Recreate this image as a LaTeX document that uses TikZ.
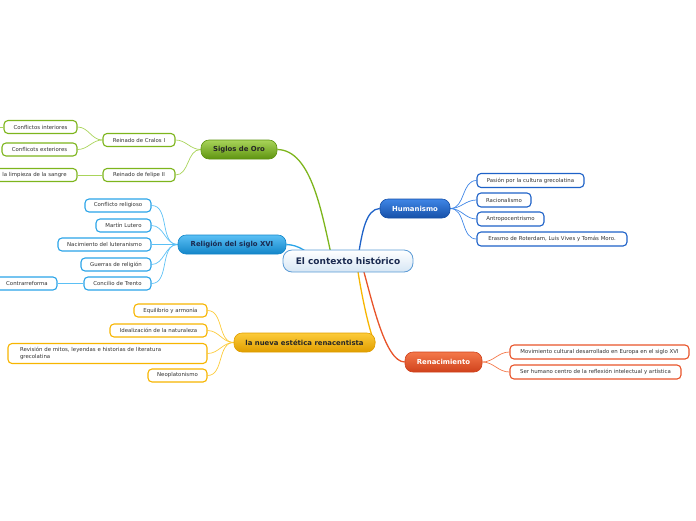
\documentclass[tikz,border=0pt]{standalone}
\usepackage{fontspec}
\setmainfont{DejaVu Sans}
\usetikzlibrary{backgrounds}
\definecolor{cGreen}{HTML}{7DB51C}
\definecolor{cGreenL}{HTML}{A9D45A}
\definecolor{cGreenD}{HTML}{5E9410}
\definecolor{cSky}{HTML}{2AA4E8}
\definecolor{cSkyL}{HTML}{5BC0F5}
\definecolor{cSkyD}{HTML}{1285C8}
\definecolor{cYel}{HTML}{F7B500}
\definecolor{cYelL}{HTML}{FCCB3A}
\definecolor{cYelD}{HTML}{E09E00}
\definecolor{cBlue}{HTML}{1E62C8}
\definecolor{cBlueL}{HTML}{3F86E6}
\definecolor{cBlueD}{HTML}{1650A8}
\definecolor{cRed}{HTML}{E8542A}
\definecolor{cRedL}{HTML}{F4784A}
\definecolor{cRedD}{HTML}{D0421C}
\definecolor{cCenter}{HTML}{5B9BD5}
\definecolor{cText}{HTML}{333333}
\definecolor{cNavy}{HTML}{1A2A50}
\tikzset{
  leaf/.style={draw, rounded corners=4pt, fill=white, line width=1.1pt,
    font=\fontsize{5.4}{6.4}\selectfont, text=cText, inner sep=0pt, minimum height=13pt},
  mainbox/.style={draw, rounded corners=8pt, line width=0.6pt, minimum height=19pt,
    inner sep=0pt, font=\bfseries\fontsize{6.9}{8}\selectfont},
  br/.style={line width=1.3pt},
  sub/.style={line width=0.7pt},
}
\begin{document}
\begin{tikzpicture}[x=1pt,y=-1pt]
\useasboundingbox (0,0) rectangle (696,520);
\clip (0,0) rectangle (696,520);

% central
\node[draw=cCenter, line width=0.8pt, rounded corners=9pt, top color=white, bottom color=cCenter!25,
  minimum width=130pt, minimum height=22pt, inner sep=0pt, text=cNavy,
  font=\bfseries\fontsize{9}{10}\selectfont] (root) at (348,261) {El contexto histórico};

% main nodes
\node[mainbox, draw=cGreenD, top color=cGreenL, bottom color=cGreenD, text=black!85,
  minimum width=76pt] (oro) at (239,149.5) {Siglos de Oro};
\node[mainbox, draw=cSkyD, top color=cSkyL, bottom color=cSkyD, text=cNavy,
  minimum width=108pt] (rel) at (232,244.5) {Religión del siglo XVI};
\node[mainbox, draw=cYelD, top color=cYelL, bottom color=cYelD, text=black!85,
  minimum width=141pt] (est) at (304.5,342.5) {la nueva estética renacentista};
\node[mainbox, draw=cBlueD, top color=cBlueL, bottom color=cBlueD, text=white,
  minimum width=70pt] (hum) at (415,208.5) {Humanismo};
\node[mainbox, draw=cRedD, top color=cRedL, bottom color=cRedD, text=white,
  minimum width=77pt, minimum height=20pt] (ren) at (443.5,362) {Renacimiento};

% Siglos de Oro leaves
\node[leaf, draw=cGreen, minimum width=72pt] (carlos) at (139,140) {Reinado de Cralos I};
\node[leaf, draw=cGreen, minimum width=72pt] (felipe) at (139,175) {Reinado de felipe II};
\node[leaf, draw=cGreen, minimum width=73pt] (cint) at (40.5,127) {Conflictos interiores};
\node[leaf, draw=cGreen, minimum width=75pt] (cext) at (39.5,149.5) {Conflicots exteriores};
\node[leaf, draw=cGreen, minimum width=90pt] (limp) at (32,175) {\hspace*{5pt}la limpieza de la sangre};
\coordinate (cintL) at (-10,127);

% Religion leaves
\node[leaf, draw=cSky, minimum width=66pt] (r1) at (118,205.5) {Conflicto religioso};
\node[leaf, draw=cSky, minimum width=55pt] (r2) at (123.5,225.5) {Martín Lutero};
\node[leaf, draw=cSky, minimum width=93pt] (r3) at (104.5,244.5) {Nacimiento del luteranismo};
\node[leaf, draw=cSky, minimum width=70pt] (r4) at (116,264.5) {Guerras de religión};
\node[leaf, draw=cSky, minimum width=67pt] (r5) at (117.5,283.5) {Concilio de Trento};
\node[leaf, draw=cSky, minimum width=72pt] (contra) at (21,283.5) {\hspace*{12pt}Contrarreforma};

% Estetica leaves
\node[leaf, draw=cYel, minimum width=73pt] (e1) at (170.5,310.5) {Equilibrio y armonía};
\node[leaf, draw=cYel, minimum width=97pt] (e2) at (158.5,330.5) {Idealización de la naturaleza};
\node[leaf, draw=cYel, minimum width=199pt, minimum height=20pt, align=left, text width=175pt,
  inner xsep=12pt] (e3) at (107.5,353.5) {Revisión de mitos, leyendas e historias de literatura\\grecolatina};
\node[leaf, draw=cYel, minimum width=59pt] (e4) at (177.5,375.5) {Neoplatonismo};

% Humanismo leaves
\node[leaf, draw=cBlue, minimum width=107pt, minimum height=14pt] (h1) at (530.5,180.5) {Pasión por la cultura grecolatina};
\node[leaf, draw=cBlue, minimum width=54pt, minimum height=14pt] (h2) at (504,200) {Racionalismo};
\node[leaf, draw=cBlue, minimum width=67pt, minimum height=14pt] (h3) at (510.5,219) {Antropocentrismo};
\node[leaf, draw=cBlue, minimum width=150pt, minimum height=14pt] (h4) at (552,239) {Erasmo de Roterdam, Luis Vives y Tomás Moro.};

% Renacimiento leaves
\node[leaf, draw=cRed, minimum width=179pt, minimum height=14pt] (n1) at (599.5,352) {Movimiento cultural desarrollado en Europa en el siglo XVI};
\node[leaf, draw=cRed, minimum width=171pt, minimum height=14pt] (n2) at (595.5,372) {Ser humano centro de la reflexión intelectual y artística};

\begin{scope}[on background layer]
% main branches
\draw[br, cGreen] (oro.east) .. controls (312,150) and (322,215) .. (332,258);
\draw[br, cSky] (rel.east) .. controls (300,245) and (305,252) .. (318,258);
\draw[br, cBlue] (hum.west) .. controls (366,209) and (362,232) .. (358,258);
\draw[br, cYel] (est.east) .. controls (372,342) and (362,300) .. (357,265);
\draw[br, cRed] (ren.west) .. controls (385,362) and (372,300) .. (362,265);
% sub branches
\begin{scope}[sub, cGreenL]
\draw (oro.west) to[out=180,in=0] (carlos.east);
\draw (oro.west) to[out=180,in=0] (felipe.east);
\draw (carlos.west) to[out=180,in=0] (cint.east);
\draw (carlos.west) to[out=180,in=0] (cext.east);
\draw (felipe.west) -- (limp.east);
\draw (cint.west) -- (cintL);
\end{scope}
\begin{scope}[sub, cSkyL]
\foreach \n in {r1,r2,r3,r4,r5} \draw (rel.west) to[out=180,in=0] (\n.east);
\draw (r5.west) -- (contra.east);
\end{scope}
\begin{scope}[sub, cYelL]
\foreach \n in {e1,e2,e3,e4} \draw (est.west) to[out=180,in=0] (\n.east);
\end{scope}
\begin{scope}[sub, cBlueL]
\foreach \n in {h1,h2,h3,h4} \draw (hum.east) to[out=0,in=180] (\n.west);
\end{scope}
\begin{scope}[sub, cRedL]
\foreach \n in {n1,n2} \draw (ren.east) to[out=0,in=180] (\n.west);
\end{scope}
\end{scope}
\end{tikzpicture}
\end{document}
